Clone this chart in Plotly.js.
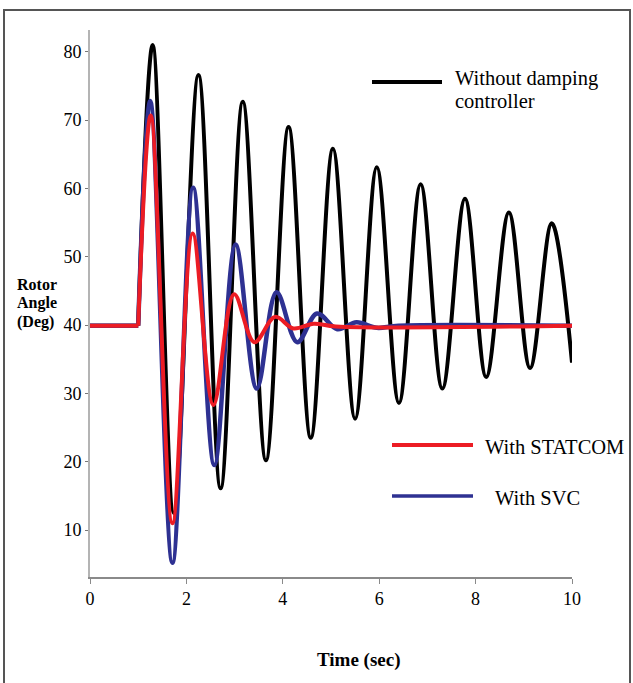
<!DOCTYPE html>
<html>
<head>
<meta charset="utf-8">
<script src="https://cdn.plot.ly/plotly-3.0.1.min.js"></script>
<style>html,body{margin:0;padding:0;background:#fff;}</style>
</head>
<body>
<div id="chart" style="width:633px;height:683px;"></div>
<script>
// ---- Data ----
const preFaultT = [0, 1.0];
const preFaultV = [39.9, 39.9];

const tBlack = [1.0, 1.30, 1.74, 2.25, 2.71, 3.17, 3.65, 4.12, 4.58, 5.04, 5.50, 5.95, 6.41, 6.86, 7.31, 7.78, 8.22, 8.69, 9.13, 9.58, 10.0];
const vBlack = [39.9, 81.0, 12.5, 76.6, 16.1, 72.7, 20.2, 69.0, 23.5, 65.8, 26.3, 63.1, 28.6, 60.6, 30.7, 58.5, 32.4, 56.5, 33.7, 54.9, 34.5];

const tSVC = [1.0, 1.25, 1.71, 2.14, 2.58, 3.02, 3.46, 3.87, 4.30, 4.71, 5.13, 5.53, 5.95, 6.40, 10.0];
const vSVC = [39.9, 72.8, 5.2, 60.1, 19.5, 51.8, 30.7, 44.8, 37.5, 41.7, 39.4, 40.4, 39.6, 39.9, 39.9];

const tSTATCOM = [1.0, 1.26, 1.71, 2.13, 2.56, 2.99, 3.41, 3.84, 4.22, 4.64, 5.10, 10.0];
const vSTATCOM = [39.9, 70.7, 11.0, 53.4, 28.3, 44.5, 37.5, 41.2, 39.5, 40.2, 39.8, 39.9];

const xTicks = [0, 2, 4, 6, 8, 10];
const yTicks = [10, 20, 30, 40, 50, 60, 70, 80];

const names = ["Without damping", "controller", "With STATCOM", "With SVC"];
const colors = {black: "#000000", red: "#ec1c24", blue: "#2e3192"};

// ---- Layout helpers (pixel -> paper) ----
const W = 633, H = 683, L = 90, R = 61, T = 30, B = 106;
const pw = W - L - R, ph = H - T - B;
const px = x => (x - L) / pw;
const py = y => (H - B - y) / ph;

const serif = "'Liberation Serif', 'Times New Roman', serif";

function tr(x, y, color, width, shape) {
  return {x: x, y: y, type: "scatter", mode: "lines", showlegend: false, hoverinfo: "skip",
          line: {color: color, width: width, shape: shape || "spline", smoothing: 1}};
}

const data = [
  tr(preFaultT, preFaultV, colors.black, 4, "linear"),
  tr(tBlack, vBlack, colors.black, 4),
  tr(preFaultT, preFaultV, colors.blue, 4.5, "linear"),
  tr(tSVC, vSVC, colors.blue, 4.5),
  tr(preFaultT, preFaultV, colors.red, 4, "linear"),
  tr(tSTATCOM, vSTATCOM, colors.red, 4)
];

function legLine(x0, x1, y, color, w) {
  return {type: "line", xref: "paper", yref: "paper", x0: px(x0), x1: px(x1), y0: py(y), y1: py(y),
          line: {color: color, width: w}};
}
function label(text, x, y, size, bold) {
  return {xref: "paper", yref: "paper", x: px(x), y: py(y), xanchor: "left", yanchor: "middle",
          showarrow: false, text: bold ? "<b>" + text + "</b>" : text,
          font: {family: serif, size: size, color: "#000"}};
}

const layout = {
  width: W, height: H,
  margin: {l: L, r: R, t: T, b: B, pad: 0},
  paper_bgcolor: "#fff", plot_bgcolor: "#fff",
  showlegend: false,
  font: {family: serif, color: "#000"},
  xaxis: {
    range: [0, 10], tickvals: xTicks, ticktext: xTicks.map(String),
    showgrid: false, zeroline: false, showline: true, linecolor: "#8a8a8a", linewidth: 1.5,
    ticks: "outside", ticklen: 5, tickwidth: 1, tickcolor: "#8a8a8a",
    tickfont: {family: serif, size: 18, color: "#000"}
  },
  yaxis: {
    range: [3.12, 83.2], tickvals: yTicks, ticktext: yTicks.map(String),
    showgrid: false, zeroline: false, showline: true, linecolor: "#b4b4b4", linewidth: 2,
    ticks: "outside", ticklen: 3, tickwidth: 1, tickcolor: "#777",
    tickfont: {family: serif, size: 18, color: "#000"}
  },
  shapes: [
    {type: "rect", xref: "paper", yref: "paper", x0: px(4), x1: px(630), y0: py(10), y1: py(700),
     line: {color: "#555", width: 2}, fillcolor: "rgba(0,0,0,0)"},
    legLine(372, 442, 82, colors.black, 4),
    legLine(392, 473, 445, colors.red, 4),
    legLine(392, 473, 496, colors.blue, 3.5)
  ],
  annotations: [
    label(names[0], 453, 78, 20.5, false),
    label(names[1], 453, 101, 20.5, false),
    label(names[2], 483, 447, 20.5, false),
    label(names[3], 493, 498, 20.5, false),
    label("Rotor", 15, 284, 16, true),
    label("Angle", 15, 303, 16, true),
    label("(Deg)", 15, 322, 16, true),
    label("Time (sec)", 315, 660, 19, true)
  ]
};

Plotly.newPlot("chart", data, layout, {displayModeBar: false, staticPlot: true});
</script>
</body>
</html>
